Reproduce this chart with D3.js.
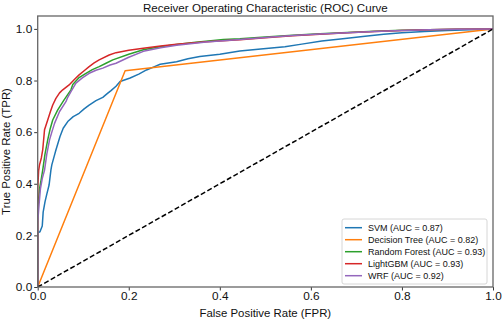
<!DOCTYPE html>
<html><head><meta charset="utf-8">
<script src="https://cdn.jsdelivr.net/npm/d3@7"></script>
<style>body{margin:0;background:#fff}svg{display:block}text{font-family:"Liberation Sans",Arial,sans-serif;fill:#111}</style>
</head><body><svg id="c" width="503" height="319"></svg>
<script>
const title = "Receiver Operating Characteristic (ROC) Curve";
const xLabel = "False Positive Rate (FPR)";
const yLabel = "True Positive Rate (TPR)";
const xTicks = [0, 0.2, 0.4, 0.6, 0.8, 1.0];
const yTicks = [0, 0.2, 0.4, 0.6, 0.8, 1.0];
const seriesNames = ["SVM", "Decision Tree", "Random Forest", "LightGBM", "WRF"];
const aucValues = [0.87, 0.82, 0.93, 0.93, 0.92];
const colors = ["#1f77b4", "#ff7f0e", "#2ca02c", "#d62728", "#9467bd"];

const svmFpr = [0, 0, 0.005, 0.010, 0.012, 0.016, 0.020, 0.025, 0.029, 0.031, 0.036, 0.040, 0.045, 0.049, 0.056, 0.066, 0.078, 0.091, 0.102, 0.113, 0.128, 0.143, 0.152, 0.161, 0.172, 0.181, 0.203, 0.222, 0.239, 0.254, 0.269, 0.305, 0.330, 0.356, 0.400, 0.444, 0.490, 0.543, 0.580, 0.624, 0.670, 0.719, 0.760, 0.800, 0.850, 0.900, 0.950, 1.0];
const svmTpr = [0, 0.210, 0.214, 0.236, 0.290, 0.330, 0.360, 0.395, 0.453, 0.473, 0.505, 0.531, 0.560, 0.583, 0.615, 0.641, 0.660, 0.673, 0.690, 0.705, 0.722, 0.735, 0.748, 0.761, 0.778, 0.796, 0.810, 0.825, 0.841, 0.852, 0.863, 0.873, 0.884, 0.893, 0.902, 0.914, 0.922, 0.931, 0.941, 0.953, 0.962, 0.972, 0.979, 0.985, 0.990, 0.994, 0.997, 1.0];

const dtFpr = [0, 0.192, 1.0];
const dtTpr = [0, 0.838, 1.0];

const rfFpr = [0, 0, 0.004, 0.008, 0.011, 0.016, 0.022, 0.027, 0.033, 0.044, 0.058, 0.073, 0.077, 0.090, 0.106, 0.120, 0.135, 0.150, 0.165, 0.200, 0.232, 0.269, 0.305, 0.342, 0.408, 0.444, 0.500, 0.560, 0.620, 0.680, 0.740, 0.800, 0.860, 0.920, 1.0];
const rfTpr = [0, 0.300, 0.380, 0.420, 0.453, 0.515, 0.570, 0.610, 0.647, 0.686, 0.725, 0.764, 0.785, 0.810, 0.828, 0.842, 0.854, 0.867, 0.880, 0.902, 0.919, 0.931, 0.940, 0.947, 0.959, 0.962, 0.969, 0.975, 0.981, 0.986, 0.991, 0.995, 0.997, 0.999, 1.0];

const lgbFpr = [0, 0, 0.002, 0.004, 0.008, 0.011, 0.015, 0.022, 0.028, 0.033, 0.040, 0.048, 0.055, 0.069, 0.080, 0.091, 0.102, 0.113, 0.124, 0.135, 0.157, 0.172, 0.200, 0.232, 0.270, 0.305, 0.370, 0.444, 0.500, 0.560, 0.620, 0.680, 0.740, 0.800, 0.860, 0.920, 1.0];
const lgbTpr = [0, 0.380, 0.450, 0.473, 0.500, 0.531, 0.609, 0.647, 0.680, 0.705, 0.731, 0.752, 0.764, 0.783, 0.803, 0.822, 0.838, 0.854, 0.868, 0.880, 0.899, 0.908, 0.917, 0.925, 0.934, 0.941, 0.950, 0.958, 0.966, 0.973, 0.979, 0.985, 0.990, 0.994, 0.997, 0.999, 1.0];

const wrfFpr = [0, 0, 0.003, 0.006, 0.010, 0.015, 0.020, 0.026, 0.031, 0.037, 0.048, 0.062, 0.066, 0.073, 0.084, 0.098, 0.113, 0.128, 0.143, 0.159, 0.172, 0.200, 0.232, 0.270, 0.305, 0.370, 0.444, 0.500, 0.560, 0.620, 0.680, 0.740, 0.800, 0.860, 0.920, 1.0];
const wrfTpr = [0, 0.250, 0.320, 0.380, 0.420, 0.453, 0.515, 0.570, 0.600, 0.634, 0.680, 0.718, 0.735, 0.757, 0.790, 0.810, 0.828, 0.840, 0.848, 0.860, 0.867, 0.890, 0.913, 0.927, 0.937, 0.949, 0.959, 0.967, 0.974, 0.980, 0.985, 0.990, 0.994, 0.997, 0.999, 1.0];

const diagX = [0, 1];
const diagY = [0, 1];

const fprs = [svmFpr, dtFpr, rfFpr, lgbFpr, wrfFpr];
const tprs = [svmTpr, dtTpr, rfTpr, lgbTpr, wrfTpr];

const svg = d3.select("#c");
const m = {l: 37.7, r: 493, t: 16, b: 287};
const x = d3.scaleLinear().domain([0, 1]).range([m.l, m.r]);
const y = d3.scaleLinear().domain([0, 1.05]).range([m.b, m.t]);

svg.append("clipPath").attr("id","clp").append("rect")
  .attr("x", m.l).attr("y", m.t).attr("width", m.r - m.l).attr("height", m.b - m.t);

const line = d3.line().x(d => x(d[0])).y(d => y(d[1]));
const plot = svg.append("g").attr("clip-path", "url(#clp)");

fprs.forEach((f, i) => {
  const pts = f.map((v, j) => [v, tprs[i][j]]);
  plot.append("path").datum(pts).attr("d", line)
    .attr("fill", "none").attr("stroke", colors[i]).attr("stroke-width", 1.5)
    .attr("stroke-linejoin", "round");
});
plot.append("path").datum(diagX.map((v, j) => [v, diagY[j]])).attr("d", line)
  .attr("fill", "none").attr("stroke", "#000").attr("stroke-width", 1.5)
  .attr("stroke-dasharray", "5,2.5");

const xa = svg.append("g").attr("transform", `translate(0,${m.b})`)
  .call(d3.axisBottom(x).tickValues(xTicks).tickFormat(d3.format(".1f")).tickSize(3.5).tickPadding(1.5));
const ya = svg.append("g").attr("transform", `translate(${m.l},0)`)
  .call(d3.axisLeft(y).tickValues(yTicks).tickFormat(d3.format(".1f")).tickSize(3.5).tickPadding(2));
[xa, ya].forEach(a => {
  a.select(".domain").remove();
  a.selectAll("line").attr("stroke", "#222").attr("stroke-width", 0.9);
  a.selectAll("text").style("font-size", "11.8px").attr("fill", "#111");
});

svg.append("rect").attr("x", m.l).attr("y", m.t).attr("width", m.r - m.l).attr("height", m.b - m.t)
  .attr("fill", "none").attr("stroke", "#666").attr("stroke-width", 1.3);

svg.append("text").attr("x", (m.l + m.r) / 2).attr("y", 11.5).attr("text-anchor", "middle")
  .style("font-size", "11.6px").text(title);
svg.append("text").attr("x", (m.l + m.r) / 2).attr("y", 316.5).attr("text-anchor", "middle")
  .style("font-size", "11.4px").text(xLabel);
svg.append("text").attr("transform", `translate(10,${(m.t + m.b) / 2}) rotate(-90)`).attr("text-anchor", "middle")
  .style("font-size", "11.4px").text(yLabel);

const lg = svg.append("g");
lg.append("rect").attr("x", 342).attr("y", 219).attr("width", 145).attr("height", 65).attr("rx", 2)
  .attr("fill", "#fff").attr("fill-opacity", 0.85).attr("stroke", "#ccc").attr("stroke-width", 0.8);
seriesNames.forEach((n, i) => {
  const yy = 227.7 + i * 12;
  lg.append("line").attr("x1", 345).attr("x2", 362).attr("y1", yy).attr("y2", yy)
    .attr("stroke", colors[i]).attr("stroke-width", 1.5);
  lg.append("text").attr("x", 368).attr("y", yy + 3.2).style("font-size", "9px")
    .text(`${n} (AUC = ${aucValues[i].toFixed(2)})`);
});
</script></body></html>
